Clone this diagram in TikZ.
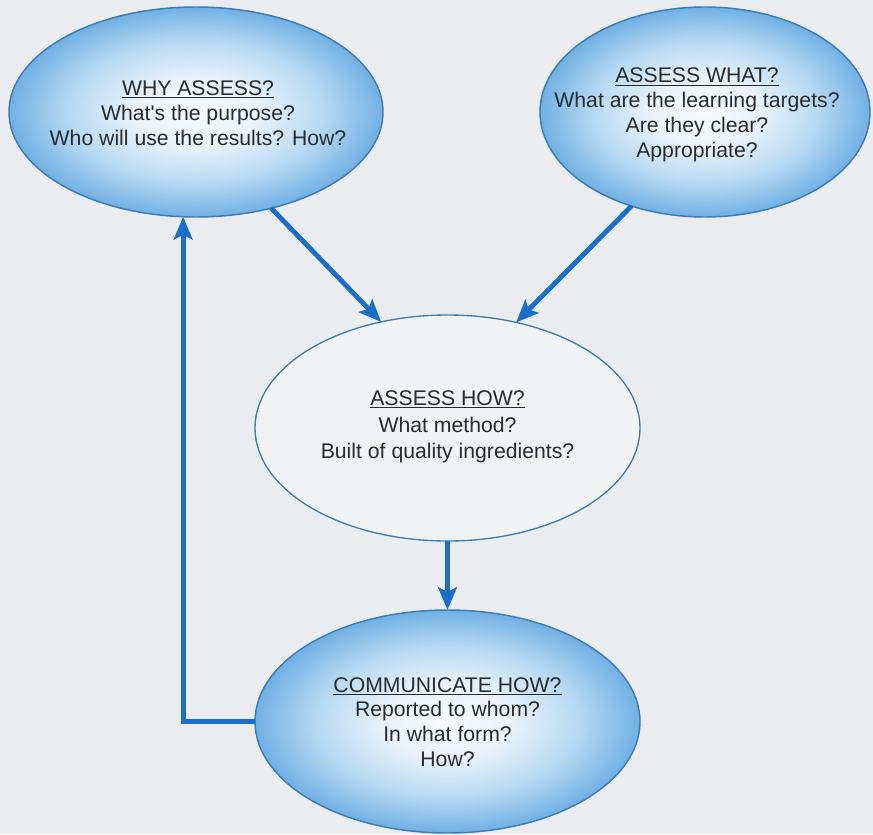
\documentclass[tikz,border=0pt]{standalone}
\usepackage{fontspec}
\setmainfont{Liberation Sans}
\newfontfamily\plainsans{Liberation Sans}
\usetikzlibrary{arrows.meta,shapes.geometric}
\definecolor{bg}{RGB}{235,236,239}
\definecolor{arrowblue}{RGB}{25,110,200}
\definecolor{rimblue}{RGB}{60,125,180}
\definecolor{edgeblue}{RGB}{112,176,228}
\definecolor{midblue}{RGB}{182,217,242}
\definecolor{paleblue}{RGB}{234,243,251}
\definecolor{centerwhite}{RGB}{247,250,253}
\definecolor{txtgray}{RGB}{40,44,48}
\definecolor{howfill}{RGB}{241,242,244}
\pgfdeclareradialshading{ellshade}{\pgfpoint{0bp}{0bp}}{color(0bp)=(centerwhite); color(8bp)=(paleblue); color(17bp)=(midblue); color(25bp)=(edgeblue); color(50bp)=(edgeblue)}
\tikzset{
  bubble/.style={ellipse, inner sep=0pt, outer sep=0pt, shading=ellshade, draw=rimblue, line width=1.1pt},
  plainbubble/.style={ellipse, inner sep=0pt, outer sep=0pt, fill=howfill, draw=rimblue, line width=1pt},
  txt/.style={align=center, text=txtgray, inner sep=0pt, font={\plainsans\fontsize{15.9pt}{18.6pt}\selectfont}},
  conn/.style={draw=arrowblue, line width=3.6pt, -{Stealth[length=17pt,width=14pt,inset=3.5pt]}}
}
\begin{document}
\begin{tikzpicture}[x=0.75pt,y=-0.75pt]
\fill[bg] (0,0) rectangle (873,834);
\useasboundingbox (0,0) rectangle (873,834);
\node[bubble, minimum width=280.5pt, minimum height=157.5pt] (why) at (196,112) {};
\node[bubble, minimum width=247.5pt, minimum height=157.5pt] (what) at (705,112) {};
\node[plainbubble, minimum width=288.75pt, minimum height=169.5pt] (how) at (447.5,428) {};
\node[bubble, minimum width=288.75pt, minimum height=167.25pt] (comm) at (447.5,721.5) {};
\node[txt] (whyT) at (198,113) {\underline{WHY ASSESS?}\\What's the purpose?\\Who will use the results? How?};
\node[txt] (whatT) at (697,115) {\underline{ASSESS WHAT?}\\What are the learning targets?\\Are they clear?\\Appropriate?};
\node[txt, font={\plainsans\fontsize{15.9pt}{20pt}\selectfont}] (howT) at (447.5,427) {\underline{ASSESS HOW?}\\What method?\\Built of quality ingredients?};
\node[txt] (commT) at (447.5,722) {\underline{COMMUNICATE HOW?}\\Reported to whom?\\In what form?\\How?};
\draw[conn] (why.-52) -- (how.122);
\draw[conn] (what.-128.7) -- (how.57.3);
\draw[conn] (how.south) -- (comm.north);
\draw[conn] (comm.west) -| (why.-97.6);
\end{tikzpicture}
\end{document}
